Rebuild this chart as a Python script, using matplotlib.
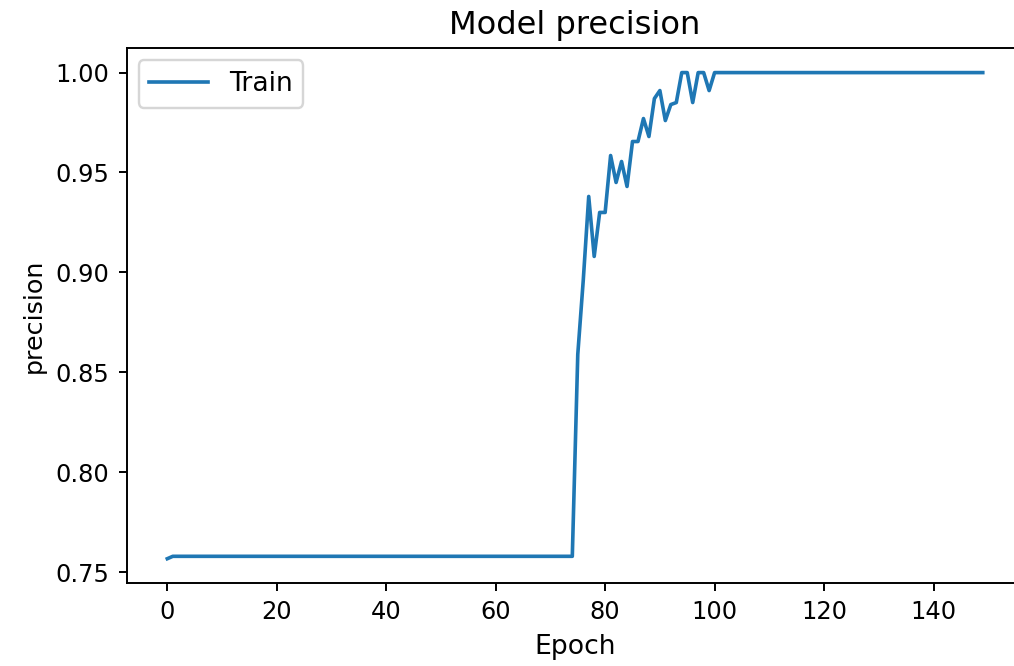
import numpy as np
import matplotlib
matplotlib.use("Agg")
import matplotlib.pyplot as plt

## ---- precision per epoch ---- ##
first_value = [0.7567]
flat_values = [0.7579] * 74          # epochs 1..74
rising_values = [0.859, 0.896, 0.938, 0.908, 0.930, 0.930, 0.9585, 0.945,
                 0.9555, 0.943, 0.9655, 0.9655, 0.977, 0.968, 0.987, 0.991,
                 0.976, 0.984, 0.985, 1.0, 1.0, 0.985, 1.0, 1.0, 0.991, 1.0]   # epochs 75..100
final_values = [1.0] * 49            # epochs 101..149

precision = first_value + flat_values + rising_values + final_values
epochs = np.arange(len(precision))

# Figure: rendered like a 72 dpi notebook plot, scaled up (right edge cropped)
dpi = 174.2
fig = plt.figure(figsize=(1014 / dpi, 666 / dpi), dpi=dpi)
ax = fig.add_axes([0.1248, 0.1246, 0.8846, 0.9275 - 0.1246])

ax.plot(epochs, precision, label='Train')
ax.set_title('Model precision', fontsize=13.3)
ax.set_xlabel('Epoch', fontsize=11)
ax.set_ylabel('precision', fontsize=10.5)
ax.legend(loc='upper left', fontsize=11, handlelength=2.2, borderaxespad=0.45)

fig.savefig('out.png', dpi=dpi)
